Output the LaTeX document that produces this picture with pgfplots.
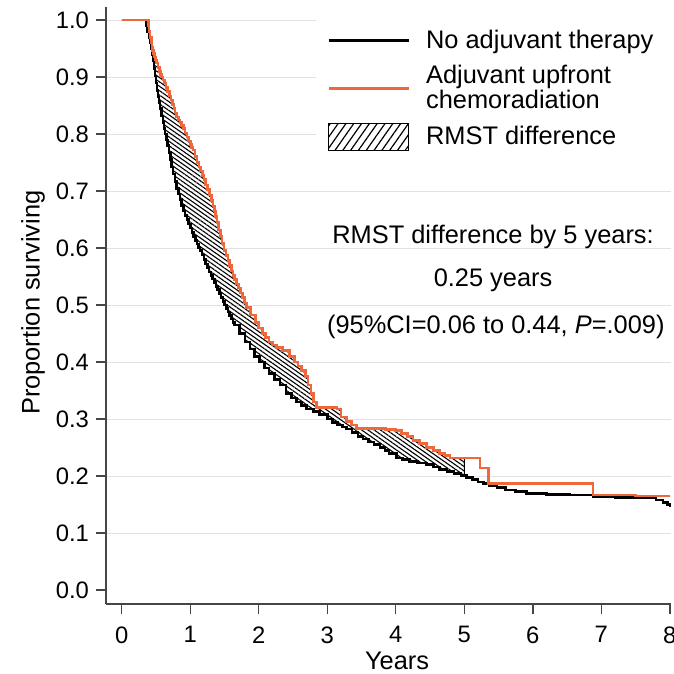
\documentclass[border=0pt]{standalone}
\usepackage{fontspec}
\setmainfont{Liberation Sans}
\usepackage{pgfplots}
\pgfplotsset{compat=1.18}
\usepgfplotslibrary{fillbetween}
\usetikzlibrary{patterns.meta}

\definecolor{adjorange}{RGB}{238,104,62}
\definecolor{axisgray}{RGB}{70,70,70}
\definecolor{gridgray}{RGB}{226,226,226}

\pgfplotsset{
  rmstleg/.style={legend image code/.code={%
    \draw[##1] (0pt,-6.75pt) rectangle (40pt,6.75pt);}},
}

\begin{document}
\begin{tikzpicture}
\begin{axis}[
    scale only axis,
    width=282.6pt, height=298.7pt,
    xmin=-0.23, xmax=8.02,
    ymin=-0.025, ymax=1.023,
    axis lines=left,
    axis line style={axisgray, line width=0.9pt, -},
    x axis line style={-}, y axis line style={-},
    tick align=outside,
    major tick length=5pt,
    tick style={axisgray, line width=0.7pt},
    xtick={0,1,2,3,4,5,6,7,8},
    xticklabels={0,1,2,3,4,5,6,7,8},
    ytick={0,0.1,0.2,0.3,0.4,0.5,0.6,0.7,0.8,0.9,1.0},
    yticklabels={0.0,0.1,0.2,0.3,0.4,0.5,0.6,0.7,0.8,0.9,1.0},
    extra y ticks={0.1,0.2,0.3,0.4,0.5,0.6,0.7,0.8,0.9,1.0},
    extra y tick labels={},
    extra y tick style={grid=major, major tick length=0pt},
    grid style={gridgray, line width=0.5pt},
    ticklabel style={font=\fontsize{11.9}{14}\selectfont},
    xticklabel style={yshift=-2.5pt},
    xlabel={Years},
    ylabel={Proportion surviving},
    label style={font=\fontsize{12.7}{15}\selectfont},
    xlabel style={at={(axis description cs:0.515,0)}, anchor=center, yshift=-28pt},
    ylabel style={at={(axis description cs:-0.129,0.505)}, anchor=center},
    legend cell align=left,
    legend image code/.code={\draw[#1] (0pt,0pt) -- (40pt,0pt);},
    legend style={
        at={(axis description cs:0.37,0.981)}, anchor=north west,
        draw=none, fill=white,
        font=\fontsize{12.7}{12.5}\selectfont,
        nodes={align=left, inner xsep=8pt, inner ysep=1.5pt},
        row sep=4pt, inner xsep=6pt, inner ysep=4pt,
    },
    clip=false,
]

\addlegendimage{black, line width=1.3pt}
\addlegendimage{adjorange, line width=1.3pt}
\addlegendimage{rmstleg, draw=black, line width=0.6pt,
    pattern={Lines[angle=55,distance=3.2pt,line width=0.6pt]}}
\legend{No adjuvant therapy, Adjuvant upfront\\chemoradiation, RMST difference}

% No adjuvant therapy
\addplot[name path=noadj, const plot, black, line width=1.3pt] coordinates {
    (0,1) (0.35,1) (0.365,0.99) (0.38,0.98) (0.395,0.97) (0.41,0.96) (0.425,0.95)
    (0.44,0.94) (0.455,0.928) (0.47,0.915) (0.485,0.902) (0.50,0.89) (0.515,0.877)
    (0.53,0.865) (0.545,0.855) (0.56,0.845) (0.58,0.832) (0.60,0.82) (0.615,0.81)
    (0.63,0.80) (0.65,0.79) (0.67,0.78) (0.69,0.767) (0.71,0.755) (0.73,0.742)
    (0.75,0.73) (0.775,0.717) (0.80,0.705) (0.825,0.695) (0.85,0.685) (0.875,0.675)
    (0.90,0.665) (0.925,0.657) (0.95,0.65) (0.975,0.642) (1.00,0.635) (1.025,0.627)
    (1.05,0.62) (1.075,0.613) (1.10,0.607) (1.12,0.601) (1.14,0.596) (1.17,0.588)
    (1.20,0.58) (1.225,0.572) (1.25,0.565) (1.275,0.558) (1.30,0.552) (1.325,0.546)
    (1.35,0.54) (1.375,0.533) (1.40,0.527) (1.425,0.52) (1.45,0.513) (1.475,0.506)
    (1.50,0.50) (1.525,0.494) (1.55,0.488) (1.575,0.482) (1.60,0.476) (1.625,0.47)
    (1.65,0.465) (1.72,0.45) (1.80,0.435) (1.87,0.423) (1.94,0.41) (2.01,0.40)
    (2.08,0.39) (2.15,0.38) (2.23,0.37) (2.31,0.36) (2.40,0.345) (2.48,0.337)
    (2.55,0.33) (2.62,0.324) (2.70,0.318) (2.80,0.313) (2.89,0.308) (3.0,0.30)
    (3.08,0.294) (3.15,0.29) (3.22,0.286) (3.28,0.283) (3.36,0.277) (3.45,0.27)
    (3.52,0.265) (3.60,0.26) (3.68,0.256) (3.77,0.25) (3.84,0.245) (3.90,0.24)
    (4.01,0.232) (4.1,0.229) (4.2,0.226) (4.32,0.223) (4.45,0.22) (4.55,0.216)
    (4.64,0.212) (4.75,0.208) (4.85,0.205) (4.95,0.201) (5.03,0.198) (5.12,0.194)
    (5.2,0.19) (5.28,0.187) (5.37,0.184) (5.48,0.18) (5.6,0.176) (5.75,0.173)
    (5.91,0.170) (6.2,0.168) (6.54,0.167) (6.88,0.164) (7.2,0.163) (7.5,0.163)
    (7.80,0.158) (7.9,0.154) (7.97,0.150) (8.0,0.146)
};
% Adjuvant upfront chemoradiation
\addplot[name path=adj, const plot, adjorange, line width=1.3pt] coordinates {
    (0,1) (0.38,1) (0.39,0.99) (0.40,0.98) (0.415,0.97) (0.43,0.96) (0.44,0.953)
    (0.45,0.947) (0.465,0.941) (0.48,0.935) (0.495,0.93) (0.51,0.925) (0.53,0.917)
    (0.55,0.91) (0.565,0.905) (0.58,0.90) (0.60,0.895) (0.62,0.89) (0.645,0.882)
    (0.67,0.875) (0.695,0.867) (0.72,0.86) (0.74,0.852) (0.76,0.845) (0.78,0.837)
    (0.80,0.83) (0.825,0.825) (0.85,0.82) (0.875,0.815) (0.90,0.81) (0.925,0.802)
    (0.95,0.795) (0.975,0.788) (1.00,0.782) (1.02,0.777) (1.04,0.772) (1.07,0.761)
    (1.10,0.75) (1.125,0.742) (1.15,0.735) (1.175,0.727) (1.20,0.72) (1.225,0.711)
    (1.25,0.703) (1.28,0.693) (1.31,0.684) (1.33,0.674) (1.35,0.665) (1.37,0.655)
    (1.39,0.645) (1.415,0.632) (1.44,0.62) (1.465,0.608) (1.49,0.596) (1.52,0.587)
    (1.55,0.578) (1.575,0.569) (1.60,0.56) (1.625,0.552) (1.65,0.545) (1.675,0.537)
    (1.70,0.53) (1.73,0.521) (1.76,0.513) (1.79,0.504) (1.82,0.496) (1.88,0.483)
    (1.95,0.47) (2.00,0.46) (2.05,0.45) (2.10,0.443) (2.15,0.435) (2.20,0.43)
    (2.26,0.426) (2.35,0.42) (2.45,0.41) (2.52,0.40) (2.57,0.393) (2.62,0.385)
    (2.68,0.375) (2.72,0.36) (2.76,0.345) (2.80,0.33) (2.84,0.32) (3.14,0.318)
    (3.2,0.304) (3.28,0.296) (3.35,0.29) (3.43,0.284) (3.85,0.282) (4.0,0.28)
    (4.08,0.275) (4.17,0.27) (4.25,0.263) (4.35,0.257) (4.45,0.25) (4.55,0.245)
    (4.64,0.24) (4.72,0.236) (4.79,0.232) (5.23,0.214) (5.35,0.187) (6.88,0.167)
    (7.5,0.165) (8.0,0.165)
};
% RMST difference up to 5 years
\addplot[draw=black, line width=0.5pt,
    pattern={Lines[angle=-35,distance=1.8pt,line width=0.55pt]}]
    fill between[of=adj and noadj, soft clip={domain=0:5}];

\node[font=\fontsize{12.7}{15}\selectfont] at (axis cs:5.42,0.619) {RMST difference by 5 years:};
\node[font=\fontsize{12.7}{15}\selectfont] at (axis cs:5.42,0.544) {0.25 years};
\node[font=\fontsize{12.7}{15}\selectfont] at (axis cs:5.46,0.461) {(95\%CI=0.06 to 0.44, {\itshape P}=.009)};
\end{axis}
\pgfresetboundingbox
\useasboundingbox (-53pt,-34.5pt) rectangle (284pt,302.2pt);
\end{tikzpicture}
\end{document}
